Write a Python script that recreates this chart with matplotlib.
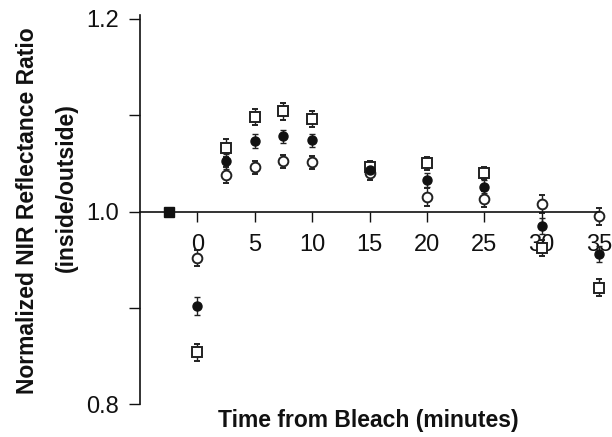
import matplotlib
matplotlib.use("Agg")
import matplotlib.pyplot as plt
from matplotlib.ticker import MultipleLocator, NullFormatter

plt.rcParams['font.family'] = ['Liberation Sans', 'DejaVu Sans']

# data
time = [0, 2.5, 5, 7.5, 10, 15, 20, 25, 30, 35]
squares = [0.854, 1.066, 1.098, 1.104, 1.096, 1.046, 1.050, 1.040, 0.962, 0.921]
squares_err = [0.009, 0.009, 0.008, 0.009, 0.008, 0.006, 0.007, 0.006, 0.008, 0.009]
filled = [0.902, 1.052, 1.073, 1.078, 1.074, 1.043, 1.033, 1.026, 0.985, 0.956]
filled_err = [0.009, 0.008, 0.007, 0.007, 0.007, 0.006, 0.007, 0.007, 0.008, 0.008]
opened = [0.952, 1.038, 1.046, 1.052, 1.051, 1.040, 1.015, 1.013, 1.008, 0.995]
opened_err = [0.008, 0.008, 0.007, 0.007, 0.007, 0.007, 0.009, 0.008, 0.009, 0.009]
baseline_time = [-2.5]
baseline_value = [1.0]

xticks = [0, 5, 10, 15, 20, 25, 30, 35]
yticks = [0.8, 1.0, 1.2]


def main():
	fig = plt.figure(figsize=(6.12, 4.37), dpi=100)
	ax = fig.add_axes([140 / 612, 1 - 404.3 / 437, 459 / 612, (404.3 - 15) / 437])

	ebkw = dict(ecolor='#222222', elinewidth=1.0, capsize=2.5, capthick=1.0,
		linestyle='none', clip_on=False)
	ax.errorbar(time, squares, yerr=squares_err, marker='s', ms=6.5, mfc='white',
		mec='#222222', mew=1.4, **ebkw)
	ax.errorbar(time, opened, yerr=opened_err, marker='o', ms=7, mfc='white',
		mec='#222222', mew=1.4, **ebkw)
	ax.errorbar(time, filled, yerr=filled_err, marker='o', ms=6.5, mfc='#111111',
		mec='#111111', mew=1.0, **ebkw)
	ax.plot(baseline_time, baseline_value, marker='s', ms=7.5, color='#111111',
		linestyle='none', clip_on=False)

	ax.set_xlim(-5, 35)
	ax.set_ylim(0.8, 1.204)

	ax.spines['top'].set_visible(False)
	ax.spines['right'].set_visible(False)
	ax.spines['bottom'].set_position(('data', 1.0))
	for s in ['left', 'bottom']:
		ax.spines[s].set_linewidth(1.2)
		ax.spines[s].set_color('#111111')

	ax.set_xticks(xticks)
	ax.set_yticks(yticks)
	ax.yaxis.set_minor_locator(MultipleLocator(0.1))
	ax.yaxis.set_minor_formatter(NullFormatter())
	ax.set_yticklabels(['%.1f' % v for v in yticks])
	ax.tick_params(axis='y', which='both', direction='out', length=8, width=1.0,
		pad=7, labelsize=17, colors='#111111')
	ax.tick_params(axis='x', direction='out', length=7, width=1.0, pad=9,
		labelsize=17, colors='#111111')

	fig.text(28 / 612, 1 - 211 / 437, 'Normalized NIR Reflectance Ratio', rotation=90,
		ha='center', va='center', fontsize=16.5, fontweight='bold', color='#111111')
	fig.text(66 / 612, 1 - 188 / 437, '(inside/outside)', rotation=90,
		ha='center', va='center', fontsize=16.5, fontweight='bold', color='#111111')
	fig.text(368 / 612, 1 - 420 / 437, 'Time from Bleach (minutes)',
		ha='center', va='center', fontsize=16.5, fontweight='bold', color='#111111')

	fig.savefig('out.png', dpi=100)
	plt.close(fig)


main()
